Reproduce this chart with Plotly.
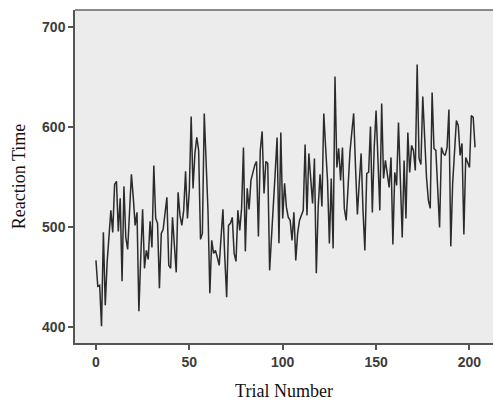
import plotly.graph_objects as go

trials = list(range(0, 204))
reaction_time = [
    467, 441, 442, 401, 495, 422, 465, 490, 517, 495,
    543, 546, 496, 529, 446, 541, 490, 478, 520, 553,
    530, 502, 515, 416, 470, 518, 459, 477, 468, 506,
    480, 562, 509, 504, 439, 494, 498, 515, 530, 462,
    459, 510, 485, 455, 535, 512, 502, 517, 556, 509,
    537, 611, 539, 574, 590, 577, 488, 494, 614, 560,
    517, 434, 487, 474, 477, 470, 462, 490, 518, 470,
    430, 502, 504, 510, 474, 466, 517, 497, 519, 580,
    476, 539, 518, 547, 555, 562, 566, 491, 577, 596,
    534, 566, 564, 457, 490, 517, 555, 590, 484, 595,
    509, 544, 520, 510, 507, 487, 515, 467, 494, 507,
    512, 517, 583, 512, 574, 547, 524, 569, 454, 520,
    553, 521, 614, 580, 547, 484, 549, 479, 651, 560,
    579, 547, 580, 519, 507, 540, 575, 595, 614, 560,
    513, 545, 574, 517, 477, 554, 555, 601, 515, 580,
    617, 568, 517, 624, 549, 567, 554, 540, 570, 483,
    555, 542, 605, 542, 490, 567, 509, 595, 555, 582,
    577, 557, 663, 569, 563, 631, 590, 550, 527, 519,
    635, 579, 577, 540, 500, 580, 574, 572, 580, 618,
    481, 544, 575, 607, 602, 572, 584, 493, 570, 565,
    560, 612, 610, 580,
]

x_ticks = [0, 50, 100, 150, 200]
y_ticks = [400, 500, 600, 700]

fig = go.Figure()
fig.add_trace(go.Scatter(
    x=trials, y=reaction_time, mode="lines",
    line=dict(color="#2b2b2b", width=1.5),
    showlegend=False, hoverinfo="skip",
))

tick_font = dict(family="Liberation Sans, Arial, sans-serif", size=14, color="#3c3c3c", weight="bold")
title_font = dict(family="Liberation Serif, Times New Roman, serif", size=18, color="#111111")

fig.update_layout(
    width=493, height=401,
    margin=dict(l=75, r=0, t=10, b=58),
    paper_bgcolor="white",
    plot_bgcolor="#ececec",
    xaxis=dict(
        range=[-11.2, 212.6], tickvals=x_ticks, ticktext=[str(v) for v in x_ticks],
        showgrid=False, zeroline=False, showline=True, linecolor="#555555", linewidth=1.5,
        ticks="outside", ticklen=5, tickcolor="#555555", tickwidth=1.5,
        tickfont=tick_font,
        title=dict(text="Trial Number", font=title_font, standoff=16),
    ),
    yaxis=dict(
        range=[384.3, 717.5], tickvals=y_ticks, ticktext=[str(v) for v in y_ticks],
        showgrid=False, zeroline=False, showline=True, linecolor="#555555", linewidth=1.5,
        ticks="outside", ticklen=5, tickcolor="#555555", tickwidth=1.5,
        tickfont=tick_font,
        title=dict(text="Reaction Time", font=title_font, standoff=12),
    ),
    shapes=[dict(type="line", xref="paper", yref="paper", x0=0, x1=1, y0=1, y1=1,
                 line=dict(color="#8a8a8a", width=2))],
)

fig.write_html("out.html", config={"displayModeBar": False},
               post_script="document.body.style.margin='0';document.body.style.overflow='hidden';")
